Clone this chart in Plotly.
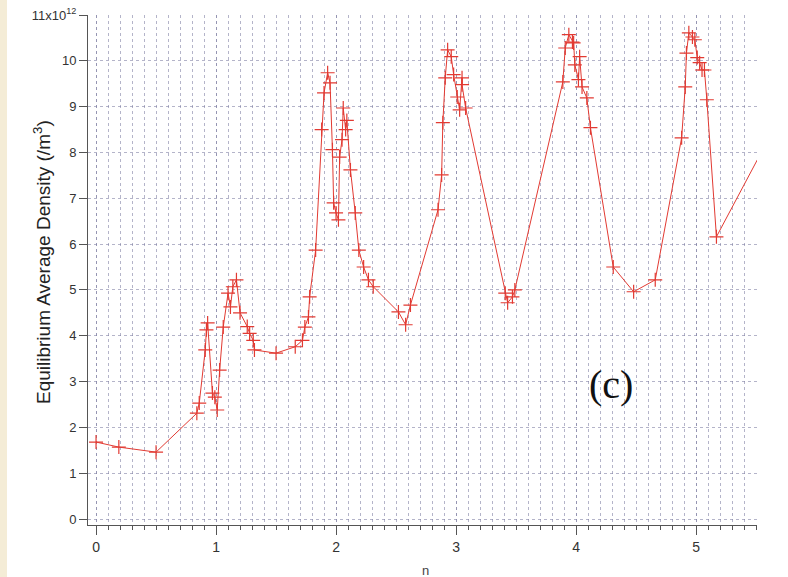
import plotly.graph_objects as go

# data
n_vals = [0, 0.19, 0.5, 0.84, 0.86, 0.91, 0.92, 0.93, 0.97, 0.99, 1.01, 1.03, 1.06,
          1.10, 1.12, 1.14, 1.17, 1.20, 1.26, 1.28, 1.31, 1.32, 1.5, 1.66, 1.72, 1.74,
          1.77, 1.78, 1.83, 1.88, 1.90, 1.93, 1.95, 1.97, 1.98, 2.00, 2.02, 2.03, 2.05,
          2.06, 2.08, 2.09, 2.12, 2.16, 2.19, 2.23, 2.27, 2.31, 2.52, 2.58, 2.62, 2.85,
          2.88, 2.89, 2.91, 2.93, 2.96, 2.98, 3.01, 3.03, 3.05, 3.05, 3.08, 3.41, 3.43,
          3.47, 3.49, 3.89, 3.91, 3.94, 3.97, 3.98, 3.99, 4.02, 4.03, 4.05, 4.09, 4.12,
          4.31, 4.48, 4.66, 4.88, 4.91, 4.92, 4.94, 4.97, 4.99, 5.01, 5.03, 5.05, 5.07,
          5.09, 5.17, 5.6]
density = [1.68, 1.57, 1.46, 2.31, 2.53, 3.69, 4.13, 4.28, 2.75, 2.66, 2.38, 3.25, 4.19,
           4.93, 4.63, 5.07, 5.22, 4.5, 4.2, 4.05, 3.9, 3.69, 3.62, 3.76, 3.9, 4.19,
           4.41, 4.85, 5.87, 8.5, 9.3, 9.74, 9.52, 8.06, 6.9, 6.68, 6.53, 7.9, 8.28,
           8.97, 8.5, 8.7, 7.62, 6.68, 5.87, 5.5, 5.22, 5.07, 4.52, 4.24, 4.67, 6.75,
           7.51, 8.65, 9.63, 10.24, 10.09, 9.7, 9.21, 8.93, 9.63, 9.48, 8.97, 4.93, 4.72,
           4.85, 5.0, 9.54, 10.28, 10.57, 10.41, 10.39, 9.91, 9.59, 10.09, 9.43, 9.19, 8.54,
           5.5, 4.96, 5.22, 8.32, 9.43, 10.17, 10.61, 10.52, 10.46, 10.07, 9.96, 9.8, 9.8,
           9.15, 6.16, 8.28]

y_tickvals = list(range(0, 12))
y_ticktext = [str(v) for v in range(0, 11)] + ["11x10<sup>12</sup>"]
x_tickvals = [0, 1, 2, 3, 4, 5]
x_ticktext = ["0", "1", "2", "3", "4", "5"]

RED = "#e23a32"
AX = "#555555"
GRID = "rgba(130,130,165,0.6)"

fig = go.Figure()
fig.add_trace(go.Scatter(
    x=n_vals, y=density, mode="lines+markers",
    line=dict(color=RED, width=1),
    marker=dict(symbol="cross-thin", size=10, line=dict(color=RED, width=1.2)),
    showlegend=False, cliponaxis=True,
))

L, R, T, B = 88, 31, 15, 52
PW = 788 - L - R
PH = 577 - T - B

fig.update_layout(
    width=788, height=577,
    margin=dict(l=L, r=R, t=T, b=B, pad=0, autoexpand=False),
    paper_bgcolor="white", plot_bgcolor="white",
    font=dict(family="Liberation Sans, Arial, sans-serif", size=12, color="#333333"),
    xaxis=dict(
        range=[-0.067, 5.508], tickvals=x_tickvals, ticktext=x_ticktext,
        automargin=False,
        showline=True, linecolor=AX, linewidth=1, mirror=False,
        ticks="outside", ticklen=9, tickcolor=AX, tickwidth=1,
        tickfont=dict(size=14, color="#333333"),
        showgrid=True, gridcolor=GRID, griddash="dot", gridwidth=1,
        minor=dict(dtick=0.1, tick0=0, ticks="outside", ticklen=4, tickcolor=AX,
                   showgrid=True, gridcolor=GRID, griddash="dot", gridwidth=1),
        zeroline=False,
    ),
    yaxis=dict(
        range=[-0.13, 11.0], tickvals=y_tickvals, ticktext=y_ticktext,
        automargin=False,
        showline=True, linecolor=AX, linewidth=1,
        ticks="outside", ticklen=8, tickcolor=AX, tickwidth=1,
        tickfont=dict(size=13, color="#333333"),
        showgrid=True, gridcolor=GRID, griddash="dot", gridwidth=1,
        zeroline=False,
    ),
    shapes=[dict(type="rect", xref="paper", yref="paper",
                 x0=-L / PW, x1=(7 - L) / PW, y0=-B / PH, y1=1 + T / PH,
                 fillcolor="#f4ecd6", line=dict(width=0), layer="below")],
    annotations=[
        dict(text="Equilibrium Average Density (/m<sup>3</sup>)",
             x=(42 - L) / PW, y=(525 - 262) / PH, xref="paper", yref="paper",
             textangle=-90, showarrow=False, xanchor="center", yanchor="middle",
             font=dict(size=19, color="#222222")),
        dict(text="n", x=0.504, y=(525 - 570) / PH, xref="paper", yref="paper",
             showarrow=False, xanchor="center", yanchor="middle",
             font=dict(size=13, color="#444444")),
        dict(text="(c)", x=4.29, y=2.93, xref="x", yref="y", showarrow=False,
             font=dict(family="Liberation Serif, Times New Roman, serif", size=40, color="#111111")),
        dict(text="n", x=0.445, y=1 + (T + 3) / PH, xref="paper", yref="paper",
             showarrow=False, yanchor="bottom", font=dict(size=12, color="#444444")),
    ],
)

fig.write_html("out.html", config={"displayModeBar": False},
               post_script="document.body.style.margin='0';document.body.style.overflow='hidden';")
